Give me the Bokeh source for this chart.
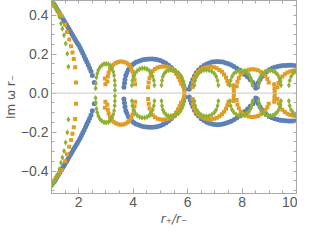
from bokeh.plotting import figure
from bokeh.models import Range1d, LinearAxis, FixedTicker, Span, CustomJSTickFormatter, Title
from bokeh.embed import file_html
from bokeh.resources import INLINE

# ---- data (upper branch, Im omega r_- > 0; the plot shows +/- pairs) ----
blue_x = [1.00, 1.05, 1.10, 1.15, 1.20, 1.25, 1.30, 1.35, 1.40, 1.45, 1.50, 1.55, 1.60, 1.65, 1.70, 1.75,
          1.80, 1.85, 1.90, 1.95, 2.00, 2.05, 2.10, 2.15, 2.20, 2.25, 2.30, 2.35, 2.40, 2.45, 2.50, 2.57,
          3.66, 3.68, 3.70, 3.73, 3.77, 3.82, 3.88, 3.95, 4.02, 4.10, 4.20, 4.30, 4.40, 4.50, 4.60, 4.70,
          4.80, 4.90, 5.00, 5.10, 5.20, 5.30, 5.40, 5.50, 5.60, 5.68, 5.75, 5.81, 5.86, 5.90,
          6.06, 6.10, 6.14, 6.19, 6.25, 6.32, 6.40, 6.50, 6.60, 6.70, 6.80, 6.90, 7.00, 7.10, 7.20, 7.30,
          7.40, 7.50, 7.60, 7.70, 7.80, 7.90, 8.00, 8.10, 8.20, 8.30, 8.40, 8.50, 8.56,
          8.50, 8.55, 8.60, 8.66, 8.73, 8.80, 8.90, 9.00, 9.10, 9.20, 9.30, 9.40, 9.50, 9.60, 9.70, 9.80,
          9.90, 10.0]
blue_y = [0.470, 0.463, 0.455, 0.444, 0.432, 0.420, 0.408, 0.396, 0.385, 0.374, 0.362, 0.351, 0.339, 0.327,
          0.315, 0.303, 0.291, 0.279, 0.267, 0.256, 0.245, 0.232, 0.218, 0.204, 0.189, 0.174, 0.159, 0.144,
          0.129, 0.112, 0.090, 0.055,
          0.030, 0.050, 0.070, 0.090, 0.105, 0.120, 0.132, 0.143, 0.151, 0.158, 0.164, 0.169, 0.172, 0.174,
          0.175, 0.175, 0.174, 0.171, 0.167, 0.161, 0.153, 0.143, 0.131, 0.117, 0.100, 0.083, 0.065, 0.048,
          0.032, 0.020,
          0.020, 0.035, 0.052, 0.070, 0.088, 0.104, 0.118, 0.131, 0.141, 0.149, 0.155, 0.159, 0.161, 0.162,
          0.161, 0.159, 0.155, 0.150, 0.144, 0.137, 0.128, 0.118, 0.107, 0.095, 0.082, 0.068, 0.054, 0.040,
          0.030,
          0.025, 0.040, 0.055, 0.070, 0.085, 0.097, 0.110, 0.120, 0.127, 0.132, 0.136, 0.139, 0.141, 0.142,
          0.143, 0.143, 0.143, 0.142]

orange_x = [1.00, 1.05, 1.10, 1.16, 1.22, 1.29, 1.37, 1.50, 1.57, 1.65, 1.72, 1.77, 1.82, 1.87, 1.90,
            2.96, 2.98,
            3.05, 3.07, 3.10, 3.15, 3.21, 3.28, 3.36, 3.45, 3.54, 3.63, 3.72, 3.80, 3.87, 3.93, 3.98, 4.02,
            4.05, 4.07,
            4.55, 4.57, 4.60, 4.65, 4.72, 4.80, 4.90, 5.00, 5.10, 5.20, 5.30, 5.40, 5.50, 5.58, 5.65, 5.71,
            5.76, 5.86, 5.87, 5.88,
            6.18, 6.20, 6.24, 6.30, 6.38, 6.47, 6.57, 6.67, 6.77, 6.87, 6.97, 7.07, 7.17, 7.26, 7.34, 7.41,
            7.46, 7.50, 7.68, 7.69, 7.70,
            7.80, 7.83, 7.88, 7.95, 8.04, 8.14, 8.25, 8.36, 8.47, 8.58, 8.68, 8.78, 8.86, 8.93, 8.98,
            9.18, 9.19, 9.20,
            9.30, 9.34, 9.40, 9.48, 9.57, 9.67, 9.78, 9.89, 10.0]
orange_y = [0.470, 0.460, 0.448, 0.435, 0.423, 0.410, 0.395, 0.350, 0.314, 0.275, 0.240, 0.208, 0.175,
            0.133, 0.055,
            0.075, 0.045,
            0.060, 0.085, 0.105, 0.122, 0.136, 0.147, 0.155, 0.160, 0.162, 0.161, 0.157, 0.150, 0.140,
            0.127, 0.110, 0.090, 0.068, 0.045,
            0.030, 0.055, 0.078, 0.098, 0.113, 0.124, 0.131, 0.135, 0.137, 0.136, 0.132, 0.125, 0.115,
            0.102, 0.085, 0.067, 0.050, 0.042, 0.024, 0.008,
            0.030, 0.055, 0.076, 0.094, 0.108, 0.119, 0.127, 0.132, 0.135, 0.135, 0.132, 0.127, 0.119,
            0.109, 0.096, 0.080, 0.062, 0.045, 0.040, 0.022, 0.006,
            0.035, 0.058, 0.078, 0.095, 0.107, 0.115, 0.120, 0.122, 0.121, 0.117, 0.110, 0.100, 0.087,
            0.072, 0.055,
            0.045, 0.025, 0.007,
            0.030, 0.052, 0.070, 0.085, 0.097, 0.106, 0.112, 0.116, 0.118]

green_x = [1.00, 1.04, 1.07, 1.11, 1.17, 1.23, 1.29, 1.35, 1.40, 1.46, 1.52, 1.58, 1.62,
           2.62, 2.63, 2.65, 2.68, 2.72, 2.78, 2.85, 2.93, 3.01, 3.09, 3.16, 3.22, 3.27, 3.30, 3.32, 3.33,
           3.33,
           3.95, 3.97, 4.01, 4.07, 4.15, 4.24, 4.33, 4.42, 4.51, 4.59, 4.66, 4.72, 4.76, 4.78,
           5.04, 5.06, 5.09, 5.14, 5.21, 5.30, 5.39, 5.48, 5.57, 5.66, 5.74, 5.80, 5.85, 5.88,
           6.25, 6.28, 6.33, 6.40, 6.49, 6.59, 6.69, 6.79, 6.89, 6.98, 7.05, 7.10, 7.13,
           7.55, 7.58, 7.63, 7.70, 7.79, 7.89, 7.99, 8.09, 8.18, 8.26, 8.32, 8.36, 8.38,
           8.60, 8.63, 8.68, 8.75, 8.84, 8.94, 9.04, 9.14, 9.23, 9.31, 9.37, 9.41, 9.43,
           9.72, 9.75, 9.80, 9.87, 9.94, 10.0]
green_y = [0.475, 0.470, 0.465, 0.455, 0.437, 0.418, 0.390, 0.357, 0.330, 0.297, 0.254, 0.202, 0.135,
           0.025, 0.050, 0.080, 0.100, 0.118, 0.133, 0.143, 0.149, 0.151, 0.148, 0.140, 0.127, 0.110,
           0.090, 0.065, 0.040, 0.015,
           0.040, 0.065, 0.085, 0.102, 0.115, 0.123, 0.127, 0.127, 0.123, 0.115, 0.102, 0.085, 0.065,
           0.040,
           0.040, 0.065, 0.085, 0.100, 0.111, 0.117, 0.118, 0.117, 0.113, 0.105, 0.092, 0.077, 0.060,
           0.040,
           0.040, 0.065, 0.085, 0.100, 0.111, 0.117, 0.119, 0.117, 0.111, 0.100, 0.085, 0.065, 0.040,
           0.040, 0.065, 0.085, 0.100, 0.110, 0.115, 0.116, 0.113, 0.106, 0.094, 0.078, 0.060, 0.040,
           0.040, 0.065, 0.085, 0.100, 0.110, 0.115, 0.116, 0.113, 0.106, 0.094, 0.078, 0.060, 0.040,
           0.040, 0.065, 0.085, 0.100, 0.109, 0.113]

x_major = [2, 4, 6, 8, 10]
x_minor = [1 + 0.5 * i for i in range(19)]
y_major = [-0.4, -0.2, 0.0, 0.2, 0.4]
y_minor = [round(-0.5 + 0.05 * i, 2) for i in range(21)]
x_title = "r\u208A/r\u208B"
y_title = "Im \u03C9 r\u208B"

BLUE, ORANGE, GREEN = "#5E81B5", "#E19C24", "#8FB032"
FRAME = "#a8a8a8"
TXT = "#595959"
TICK_FONT = "Liberation Sans"
LABEL_FONT = "DejaVu Sans"

p = figure(width=297, height=228, output_backend="svg", toolbar_location=None,
           x_range=Range1d(1, 10), y_range=Range1d(-0.515, 0.475),
           min_border_left=44, min_border_right=1, min_border_top=0, min_border_bottom=35)
p.grid.visible = False
p.outline_line_color = FRAME
p.background_fill_color = "white"
p.border_fill_color = "white"

p.add_layout(Span(location=0, dimension="width", line_color="#c8c8c8", line_width=1))

def neg(v):
    return [-a for a in v]

p.scatter(blue_x + blue_x, blue_y + neg(blue_y), marker="circle", size=5,
          fill_color=BLUE, line_color=None)
p.scatter(orange_x + orange_x, orange_y + neg(orange_y), marker="square", size=4,
          fill_color=ORANGE, line_color=None)
p.scatter(green_x + green_x, green_y + neg(green_y), marker="diamond", size=6,
          fill_color=GREEN, line_color=None)

fmt = CustomJSTickFormatter(code="var s = tick.toFixed(1); if (Math.abs(tick) < 1e-9) { s = '0.0'; } return s.replace('-', '\u2212');")
xfmt = CustomJSTickFormatter(code="return Math.round(tick).toString();")

def style(ax, ticker):
    ax.ticker = ticker
    ax.axis_line_color = FRAME
    ax.major_tick_line_color = FRAME
    ax.minor_tick_line_color = FRAME
    ax.major_tick_in = 5
    ax.major_tick_out = 0
    ax.minor_tick_in = 3
    ax.minor_tick_out = 0
    ax.major_label_text_font = TICK_FONT
    ax.major_label_text_font_size = "14px"
    ax.major_label_text_color = TXT
    ax.axis_label_text_font = LABEL_FONT
    ax.axis_label_text_font_size = "12px"
    ax.axis_label_text_color = TXT

style(p.xaxis[0], FixedTicker(ticks=x_major, minor_ticks=x_minor))
p.xaxis[0].formatter = xfmt
p.xaxis[0].major_label_standoff = 3

style(p.yaxis[0], FixedTicker(ticks=y_major, minor_ticks=y_minor))
p.yaxis[0].formatter = fmt
p.yaxis[0].axis_label = y_title
p.yaxis[0].axis_label_text_font_style = "normal"
p.yaxis[0].major_label_standoff = 3
p.yaxis[0].axis_label_standoff = 0

# x-axis title as a below-panel title, centred under the frame
p.add_layout(Title(text=x_title, align="center", standoff=0, offset=0,
                   text_font=LABEL_FONT, text_font_size="12px", text_font_style="italic",
                   text_color=TXT), "below")

# mirrored frame ticks on top and right: tick marks only (no labels)
def mirror_axis(minor):
    ax = LinearAxis(ticker=FixedTicker(ticks=[], minor_ticks=minor))
    ax.axis_line_color = FRAME
    ax.minor_tick_line_color = FRAME
    ax.major_tick_line_color = FRAME
    ax.minor_tick_in = 3
    ax.minor_tick_out = 0
    ax.major_tick_in = 0
    ax.major_tick_out = 0
    ax.major_label_standoff = 0
    ax.axis_label_standoff = 0
    return ax

p.add_layout(mirror_axis(x_minor), "above")
p.add_layout(mirror_axis(y_minor), "right")

open("out.html", "w").write(file_html(p, INLINE))
